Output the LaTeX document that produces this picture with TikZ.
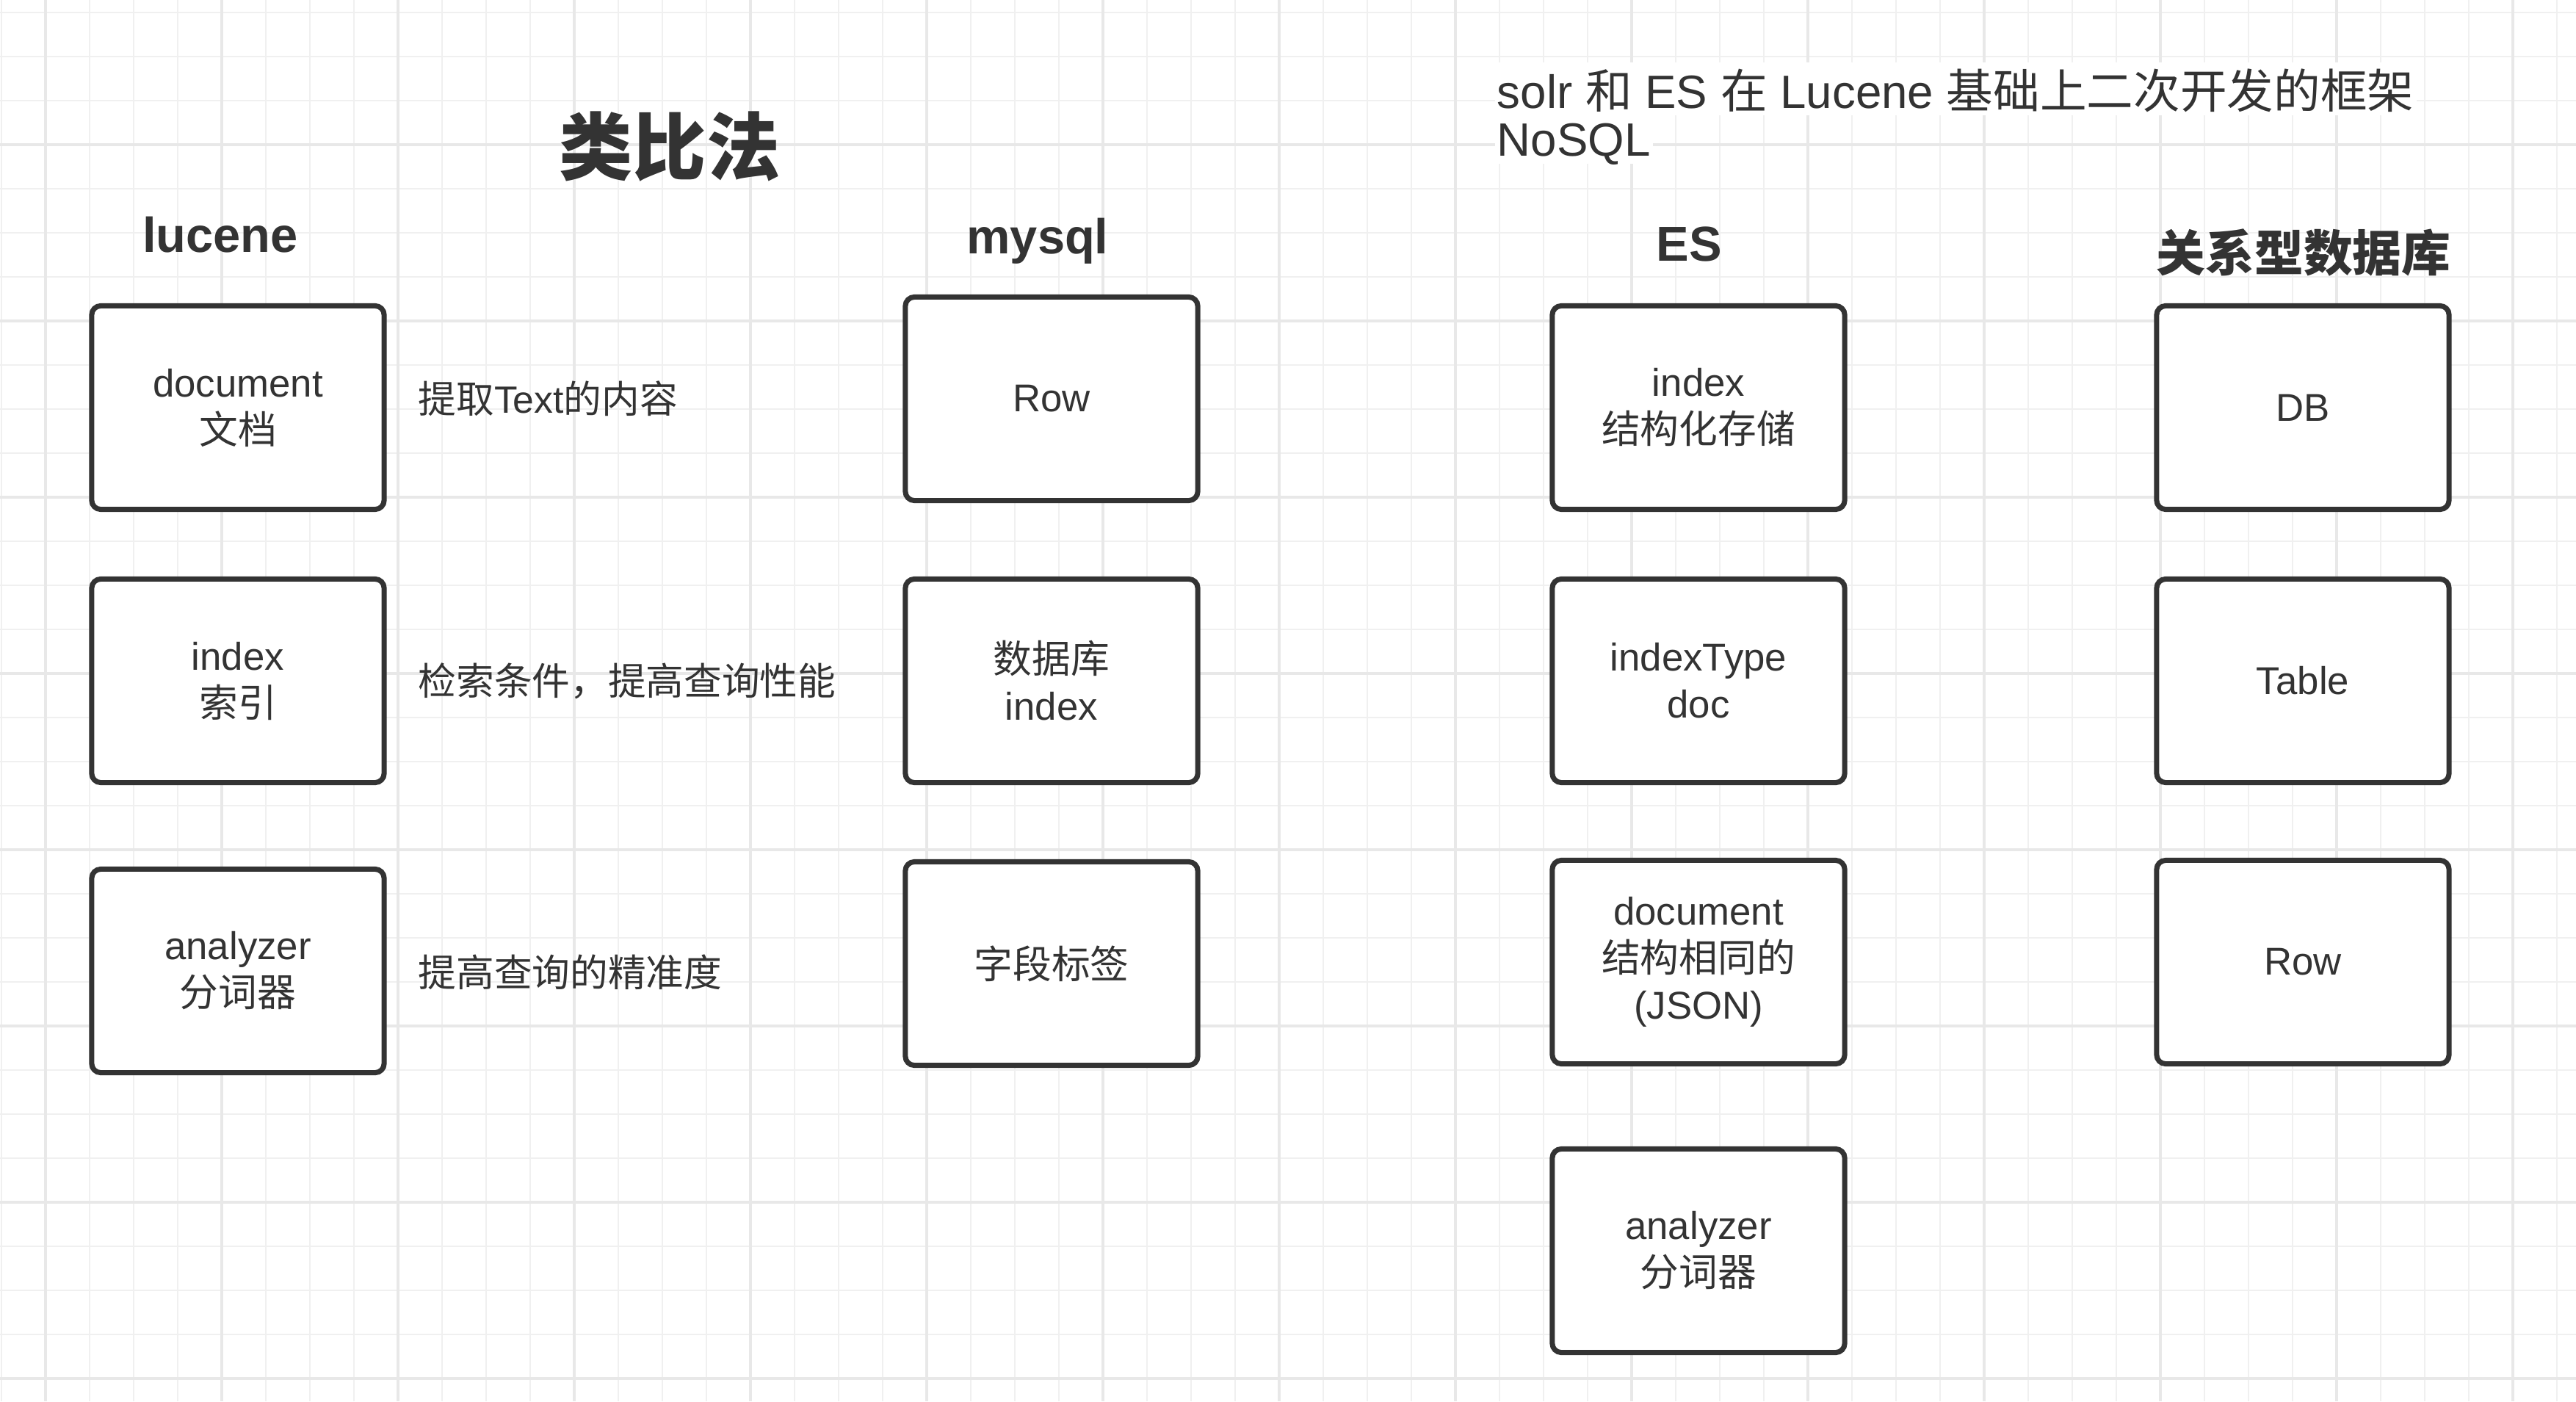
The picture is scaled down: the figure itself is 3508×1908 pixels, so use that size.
\documentclass[tikz,border=0pt]{standalone}
\usepackage{fontspec}
\setmainfont{Liberation Sans}
\newfontfamily\cjk{Noto Sans CJK SC}
\newcommand{\zh}[1]{{\cjk #1}}
\definecolor{ink}{HTML}{333333}
\definecolor{gridminor}{HTML}{F0F0F0}
\definecolor{gridmajor}{HTML}{E8E8E8}

\begin{document}
\begin{tikzpicture}[x=0.01cm,y=-0.01cm,
    box/.style={draw=ink,fill=white,line width=2pt,rounded corners=3.5pt,
      minimum width=3.98cm,minimum height=2.77cm,align=center,text=ink,
      font=\fontsize{15}{18.2}\selectfont},
    note/.style={anchor=west,inner sep=0pt,text=ink,font=\fontsize{14.7}{17}\selectfont},
    head/.style={anchor=base,inner sep=0pt,text=ink,font=\bfseries\fontsize{19}{22}\selectfont},
    bigtitle/.style={inner sep=0pt,text=ink,font=\bfseries\fontsize{28.5}{32}\selectfont},
    banner/.style={anchor=base west,fill=white,inner xsep=0.9pt,inner ysep=0pt,text=ink,
      font=\fontsize{18.1}{19}\selectfont}]
  \useasboundingbox (0,0) rectangle (3508,1908);
  \fill[white] (0,0) rectangle (3508,1908);
  % grid
  \foreach \k in {0,...,58}
    \draw[gridminor,line width=0.7pt] (2+60*\k,0) -- (2+60*\k,1908);
  \foreach \k in {0,...,31}
    \draw[gridminor,line width=0.7pt] (0,17+60*\k) -- (3508,17+60*\k);
  \foreach \k in {1,5,...,57}
    \draw[gridmajor,line width=0.9pt] (2+60*\k,0) -- (2+60*\k,1908);
  \foreach \k in {3,7,...,31}
    \draw[gridmajor,line width=0.9pt] (0,17+60*\k) -- (3508,17+60*\k);

  % titles
  \node[bigtitle] (title) at (912,200) {\zh{类比法}};
  \node[head] (lucene) at (300,343) {lucene};
  \node[head] (mysql) at (1413,345) {mysql};
  \node[head] (es) at (2300,355) {ES};
  \node[head,anchor=center] (rdb) at (3137,344) {\zh{关系型数据库}};
  \node[banner,text height=17.6pt,text depth=2.8pt] (solr) at (2035,147)
    {solr \zh{和} ES \zh{在} Lucene \zh{基础上二次开发的框架}};
  \node[banner,text height=15.6pt,text depth=3.1pt] (nosql) at (2035,212) {NoSQL};

  % lucene
  \node[box] (ldoc) at (324,555) {document\\\zh{文档}};
  \node[box] (lidx) at (324,927) {index\\\zh{索引}};
  \node[box] (lana) at (324,1322) {analyzer\\\zh{分词器}};
  \node[note] (ndoc) at (569,543) {\zh{提取}Text\zh{的内容}};
  \node[note] (nidx) at (569,927) {\zh{检索条件，提高查询性能}};
  \node[note] (nana) at (569,1324) {\zh{提高查询的精准度}};

  % mysql
  \node[box] (mrow) at (1432,543) {Row};
  \node[box] (midx) at (1432,927) {\zh{数据库}\\index};
  \node[box] (mtag) at (1432,1312) {\zh{字段标签}};

  % ES
  \node[box] (eidx) at (2313,555) {index\\\zh{结构化存储}};
  \node[box] (etyp) at (2313,927) {indexType\\doc};
  \node[box] (edoc) at (2313,1310) {document\\\zh{结构相同的}\\(JSON)};
  \node[box] (eana) at (2313,1703) {analyzer\\\zh{分词器}};

  % relational db
  \node[box] (rdbx) at (3136,555) {DB};
  \node[box] (rtab) at (3136,927) {Table};
  \node[box] (rrow) at (3136,1310) {Row};
\end{tikzpicture}
\end{document}
